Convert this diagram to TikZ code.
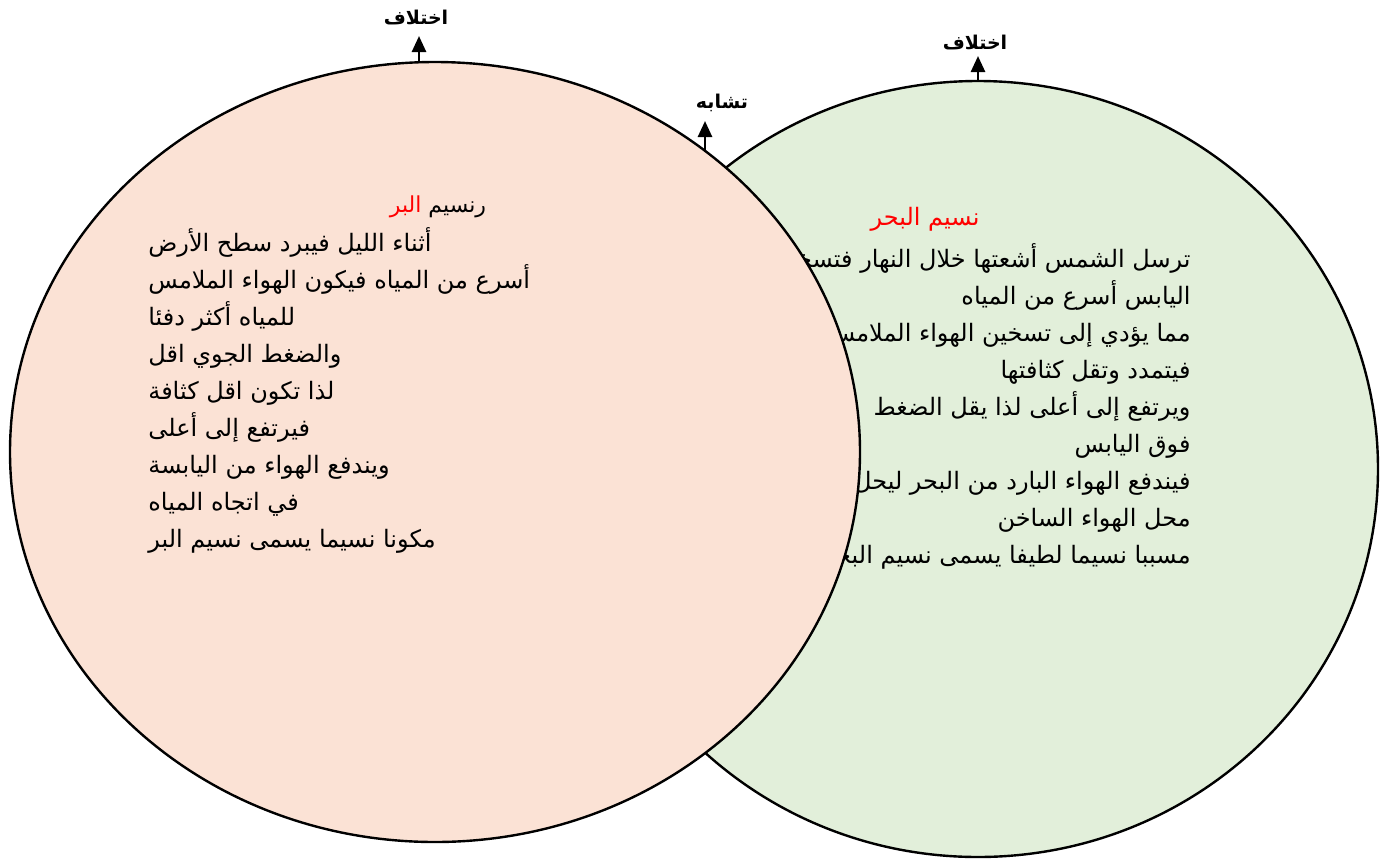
\documentclass[tikz,border=0pt]{standalone}
\usepackage{fontspec}
\usetikzlibrary{shapes.geometric,arrows.meta}
\newfontfamily\arabicfont[Script=Arabic]{DejaVu Sans}
\TeXXeTstate=1
\definecolor{pinkfill}{HTML}{FBE2D5}
\definecolor{greenfill}{HTML}{E2EFDA}
\tikzset{
  circ/.style={ellipse, draw=black, line width=1.2pt, inner sep=0pt, outer sep=0pt},
  arr/.style={line width=1.3pt, -{Triangle[length=8pt,width=7pt]}},
  lbl/.style={font=\arabicfont\bfseries\fontsize{9.5}{10}\selectfont, inner sep=0pt},
  body/.style={font=\arabicfont\fontsize{12}{18.5}\selectfont, inner sep=0pt},
  ttl/.style={font=\arabicfont\fontsize{12}{13}\selectfont, inner sep=0pt, text=red}
}
\begin{document}
\begin{tikzpicture}[x=0.5pt,y=-0.5pt]
\useasboundingbox (0,0) rectangle (1388,858);
% right (green) circle
\node[circ, fill=greenfill, minimum width=400pt, minimum height=388pt] (sea) at (978,469) {};
\node[ttl] (seatitle) at (925,219) {\beginR نسيم البحر\endR};
\node[body, anchor=north east, align=right] (seatext) at (1191,243) {%
\beginR ترسل الشمس أشعتها خلال النهار فتسخن\endR\\
\beginR اليابس أسرع من المياه\endR\\
\beginR مما يؤدي إلى تسخين الهواء الملامس\endR\\
\beginR فيتمدد وتقل كثافتها\endR\\
\beginR ويرتفع إلى أعلى لذا  يقل الضغط\endR\\
\beginR فوق اليابس\endR\\
\beginR فيندفع الهواء البارد من البحر ليحل\endR\\
\beginR محل الهواء الساخن\endR\\
\beginR مسببا نسيما لطيفا يسمى نسيم البحر\endR};
% left (pink) circle
\node[circ, fill=pinkfill, minimum width=425pt, minimum height=390pt] (land) at (435,452) {};
\node[ttl, font=\arabicfont\fontsize{11}{12}\selectfont] (landtitle) at (438,207) {\beginR ر{\color{black}نسيم} البر\endR};
\node[body, anchor=north west, align=left] (landtext) at (148,227) {%
\beginR أثناء الليل فيبرد سطح الأرض\endR\\
\beginR أسرع من المياه فيكون الهواء الملامس\endR\\
\beginR للمياه أكثر دفئا\endR\\
\beginR والضغط الجوي اقل\endR\\
\beginR لذا تكون اقل كثافة\endR\\
\beginR فيرتفع إلى أعلى\endR\\
\beginR ويندفع الهواء من اليابسة\endR\\
\beginR في اتجاه المياه\endR\\
\beginR مكونا  نسيما يسمى نسيم البر\endR};
% arrows and labels
\coordinate (meet) at (705,152);
\coordinate (landtop) at (419,62);
\coordinate (seatop) at (978,80);
\node[lbl] (diff1) at (416,18) {\beginR اختلاف\endR};
\node[lbl] (diff2) at (975,43) {\beginR اختلاف\endR};
\node[lbl] (same) at (722,103) {\beginR تشابه\endR};
\draw[arr] (landtop) -- (419,36);
\draw[arr] (seatop) -- (978,56);
\draw[arr] (meet) -- (705,121);
\end{tikzpicture}
\end{document}
